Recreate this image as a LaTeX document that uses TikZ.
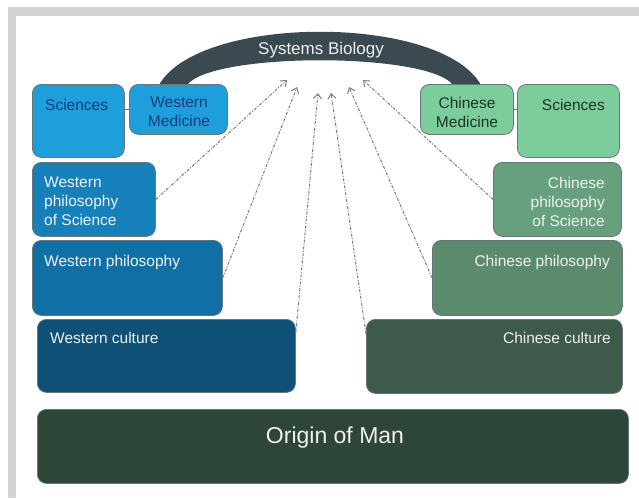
\documentclass[tikz,border=0pt]{standalone}
\usepackage{fontspec}
\setmainfont{Liberation Sans}
\usetikzlibrary{arrows.meta,calc}
\definecolor{framegray}{RGB}{212,212,212}
\definecolor{boxline}{RGB}{105,118,120}
\definecolor{sciblue}{RGB}{30,158,218}
\definecolor{wpsblue}{RGB}{22,128,186}
\definecolor{wpblue}{RGB}{16,112,166}
\definecolor{wcblue}{RGB}{14,80,118}
\definecolor{origingreen}{RGB}{45,70,56}
\definecolor{ccgreen}{RGB}{62,90,74}
\definecolor{cpgreen}{RGB}{90,139,109}
\definecolor{cpsgreen}{RGB}{102,160,126}
\definecolor{scigreen}{RGB}{124,204,156}
\definecolor{darkbluetext}{RGB}{26,60,124}
\definecolor{darkgreentext}{RGB}{28,53,38}
\definecolor{arcslate}{RGB}{58,74,80}
\definecolor{arrowgray}{RGB}{125,125,125}
\definecolor{lighttext}{RGB}{240,240,240}
\begin{document}
\begin{tikzpicture}[x=1pt,y=-1pt,
  box/.style={draw=boxline, line width=0.8pt, rounded corners=9pt, inner sep=0pt, anchor=north west},
  boxtext/.style={inner sep=0pt, font=\fontsize{15.5}{19}\selectfont},
  flow/.style={draw=arrowgray, line width=1pt, dash pattern=on 3pt off 1.5pt on 1pt off 1.5pt,
    -{Straight Barb[length=5pt,width=8pt,line width=1pt]}},
  tie/.style={draw=boxline, line width=1pt}
]
\useasboundingbox (0,0) rectangle (639,498);
\fill[white] (0,0) rectangle (639,498);
\fill[framegray] (8,7) rectangle (639,16);
\fill[framegray] (8,7) rectangle (16,498);

% arc
\fill[arcslate] (159,85) .. controls (199,14) and (441,14) .. (481,85)
  -- (453,85) .. controls (428,52) and (212,52) .. (187,85) -- cycle;
\node[inner sep=0pt, anchor=base, font=\fontsize{17}{20}\selectfont, text=lighttext] (sb) at (321,54) {Systems Biology};

% western boxes
\node[box, fill=sciblue, minimum width=92, minimum height=73] (sciL) at (32,84) {};
\node[box, fill=sciblue, minimum width=98, minimum height=50] (wm) at (129,84) {};
\node[box, fill=wpsblue, minimum width=123, minimum height=74] (wps) at (32,162) {};
\node[box, fill=wpblue, minimum width=190, minimum height=75] (wp) at (32,240) {};
\node[box, fill=wcblue, minimum width=258, minimum height=73] (wc) at (37,319) {};
% origin
\node[box, fill=origingreen, minimum width=591, minimum height=74] (om) at (37,409) {};
% chinese boxes
\node[box, fill=ccgreen, minimum width=256, minimum height=74] (cc) at (366,319) {};
\node[box, fill=cpgreen, minimum width=190, minimum height=75] (cp) at (432,240) {};
\node[box, fill=cpsgreen, minimum width=128, minimum height=74] (cps) at (493,162) {};
\node[box, fill=scigreen, minimum width=102, minimum height=73] (sciR) at (517,84) {};
\node[box, fill=scigreen, minimum width=93, minimum height=50] (cm) at (420,84) {};

% ties
\draw[tie] (sciL.east |- wm.west) -- (wm.west);
\draw[tie] (cm.east) -- (sciR.west |- cm.east);

% texts
\node[boxtext, anchor=base west, text=darkbluetext] (sciLt) at (45,110) {Sciences};
\node[boxtext, anchor=north, align=center, text=darkbluetext] (wmt) at (179,97) {Western\\Medicine};
\node[boxtext, anchor=north west, align=left, text=lighttext] (wpst) at (44,177) {Western\\philosophy\\of Science};
\node[boxtext, anchor=base west, text=lighttext] (wpt) at (44,266) {Western philosophy};
\node[boxtext, anchor=base west, text=lighttext] (wct) at (50,343) {Western culture};
\node[inner sep=0pt, anchor=base, font=\fontsize{23}{26}\selectfont, text=lighttext] (omt) at (335,443) {Origin of Man};
\node[boxtext, anchor=base east, text=lighttext] (cct) at (611,343) {Chinese culture};
\node[boxtext, anchor=base east, text=lighttext] (cpt) at (610,266) {Chinese philosophy};
\node[boxtext, anchor=north east, align=right, text=lighttext] (cpst) at (605,177) {Chinese\\philosophy\\of Science};
\node[boxtext, anchor=base east, text=darkgreentext] (sciRt) at (605,110) {Sciences};
\node[boxtext, anchor=north, align=center, text=darkgreentext] (cmt) at (467,97) {Chinese\\Medicine};

% arrow targets
\coordinate (t1) at (287,80);
\coordinate (t2) at (297,87);
\coordinate (t3) at (318,93);
\coordinate (t4) at (331,93);
\coordinate (t5) at (349,87);
\coordinate (t6) at (363,80);

\draw[flow] (wps.east) -- (t1);
\draw[flow] (wp.east) -- (t2);
\draw[flow] (wc.10) -- (t3);
\draw[flow] (cc.170) -- (t4);
\draw[flow] (cp.west) -- (t5);
\draw[flow] (cps.west) -- (t6);
\end{tikzpicture}
\end{document}
